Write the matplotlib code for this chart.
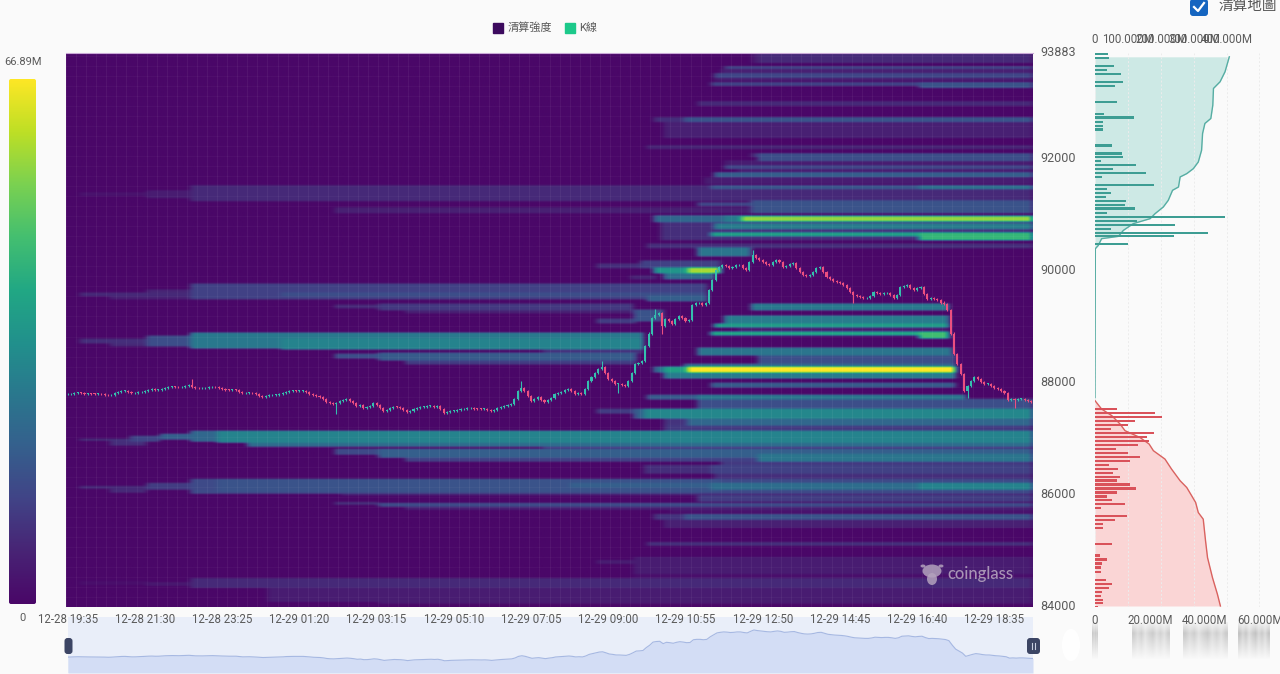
import numpy as np
import matplotlib
matplotlib.use("Agg")
import matplotlib.pyplot as plt
from matplotlib.colors import LinearSegmentedColormap
from matplotlib.patches import FancyBboxPatch, Ellipse, Rectangle
from matplotlib.transforms import ScaledTranslation

plt.rcParams['font.family'] = ['Roboto', 'Noto Sans CJK TC', 'DejaVu Sans']

W, H = 1280, 674
P_MIN, P_MAX = 84000, 93883
N = 288
V_MAX = 66.89

time_labels = ["12-28 19:35", "12-28 21:30", "12-28 23:25", "12-29 01:20", "12-29 03:15", "12-29 05:10", "12-29 07:05",
               "12-29 09:00", "12-29 10:55", "12-29 12:50", "12-29 14:45", "12-29 16:40", "12-29 18:35"]
price_ticks = [84000, 86000, 88000, 90000, 92000, 93883]

# liquidation bands: price low, price high, first candle, last candle, value in M
bands = [
    (93721, 93883, 206, 288, 8), (93721, 93883, 204, 206, 4), (93614, 93650, 196, 288, 13), (93525, 93596, 195, 288, 6),
    (93453, 93525, 193, 288, 14), (93400, 93453, 193, 288, 5), (93310, 93364, 192, 288, 13),
    (93275, 93364, 254, 288, 17), (92953, 93024, 188, 288, 8), (92667, 92738, 175, 184, 9),
    (92667, 92738, 184, 288, 17), (92381, 92667, 178, 288, 6), (92184, 92238, 173, 288, 7),
    (92042, 92095, 204, 206, 9), (91970, 92095, 206, 288, 16), (91881, 91970, 196, 288, 5),
    (91827, 91881, 196, 288, 14), (91756, 91827, 200, 288, 5), (91684, 91756, 193, 288, 20),
    (91559, 91666, 190, 288, 5), (91470, 91523, 192, 288, 18), (91470, 91523, 254, 288, 25),
    (91255, 91523, 37, 288, 8), (91345, 91398, 4, 37, 3), (91309, 91434, 24, 37, 5),
    (91166, 91219, 188, 288, 14), (91041, 91255, 204, 288, 17), (91041, 91130, 80, 204, 6),
    (90880, 90987, 175, 288, 22), (90880, 90987, 196, 288, 28), (90898, 90969, 201, 288, 56),
    (90558, 90880, 177, 288, 9), (90755, 90844, 193, 288, 28), (90630, 90683, 192, 288, 38),
    (90558, 90683, 254, 288, 44), (90415, 90487, 173, 288, 9), (90272, 90415, 188, 204, 26),
    (90058, 90129, 158, 195, 9), (90058, 90183, 171, 195, 13), (89969, 90058, 175, 195, 35),
    (89969, 90058, 185, 195, 58), (89861, 89969, 178, 193, 24), (89860, 89900, 168, 176, 7),
    (89504, 89772, 37, 191, 13), (89558, 89611, 4, 37, 8), (89504, 89558, 13, 37, 6),
    (89530, 89650, 24, 37, 7), (89558, 89611, 64, 191, 16), (89468, 89558, 173, 191, 20),
    (89290, 89415, 93, 169, 11), (89343, 89397, 80, 93, 8), (89254, 89290, 101, 169, 6),
    (89110, 89290, 169, 178, 17), (89075, 89130, 158, 170, 12), (89290, 89415, 204, 263, 27),
    (89075, 89200, 196, 263, 28), (89004, 89057, 193, 263, 37), (88932, 89004, 200, 263, 5),
    (88861, 88914, 192, 263, 40), (88796, 88914, 254, 263, 46), (88628, 88896, 37, 172, 27),
    (88718, 88789, 4, 24, 9), (88664, 88718, 13, 37, 8), (88664, 88835, 24, 37, 16),
    (88610, 88780, 64, 172, 30), (88539, 88646, 142, 172, 9), (88503, 88628, 188, 264, 26),
    (88450, 88521, 80, 93, 16), (88414, 88539, 93, 170, 19), (88342, 88414, 101, 170, 12),
    (88342, 88503, 206, 265, 16), (88289, 88342, 184, 265, 22), (88199, 88289, 175, 265, 24),
    (88199, 88289, 178, 265, 38), (88199, 88289, 185, 265, 66.89), (88092, 88199, 178, 265, 28),
    (87931, 88003, 192, 265, 19), (87717, 87788, 173, 188, 19), (87717, 87788, 188, 268, 26),
    (87538, 87717, 188, 288, 16), (87360, 87538, 172, 288, 31), (87360, 87538, 169, 172, 20),
    (87450, 87538, 158, 170, 12), (87235, 87360, 185, 288, 22), (87235, 87360, 178, 185, 10),
    (87145, 87235, 178, 288, 11), (86931, 87145, 45, 288, 30), (86960, 87145, 37, 45, 22),
    (86985, 87074, 28, 37, 20), (86967, 87002, 4, 19, 10), (86895, 86949, 13, 24, 9),
    (86950, 87055, 19, 28, 14), (86877, 86931, 54, 288, 24), (86823, 86877, 142, 288, 10),
    (86734, 86806, 80, 93, 15), (86663, 86823, 93, 288, 20), (86609, 86663, 101, 288, 13),
    (86609, 86720, 206, 288, 26), (86520, 86609, 195, 288, 11), (86377, 86520, 192, 288, 13),
    (86377, 86520, 172, 192, 9), (86252, 86377, 193, 288, 9), (86037, 86287, 37, 288, 15),
    (86109, 86162, 4, 24, 8), (86055, 86109, 13, 24, 8), (86091, 86216, 24, 37, 12),
    (86060, 86287, 45, 195, 17), (86127, 86216, 150, 288, 20), (86091, 86216, 192, 288, 24),
    (86091, 86216, 254, 288, 30), (85984, 86037, 82, 288, 5), (85894, 85984, 188, 288, 12),
    (85823, 85876, 80, 93, 9), (85805, 85858, 93, 288, 15), (85751, 85805, 101, 288, 6),
    (85680, 85751, 180, 288, 3), (85555, 85662, 184, 288, 17), (85555, 85662, 175, 184, 10),
    (85412, 85555, 178, 288, 6), (85108, 85144, 173, 288, 9), (84590, 84876, 169, 288, 5),
    (84780, 84830, 158, 169, 5), (84518, 84590, 169, 288, 2), (84340, 84518, 37, 288, 8),
    (84388, 84430, 24, 37, 4), (84410, 84460, 4, 24, 2), (84107, 84340, 60, 288, 5),
    (84107, 84197, 80, 93, 3), (84054, 84161, 93, 288, 4),
]

# 5 minute closes
closes = [
    87794, 87805, 87814, 87823, 87814, 87806, 87806, 87800, 87796, 87796,
    87794, 87788, 87776, 87788, 87812, 87833, 87851, 87855, 87833, 87812,
    87814, 87827, 87837, 87860, 87878, 87884, 87869, 87873, 87896, 87914,
    87928, 87932, 87926, 87919, 87932, 87941, 87955, 87932, 87905, 87901,
    87901, 87910, 87917, 87926, 87917, 87905, 87890, 87878, 87873, 87874,
    87873, 87842, 87812, 87817, 87824, 87810, 87794, 87771, 87753, 87762,
    87776, 87783, 87788, 87794, 87815, 87842, 87853, 87855, 87851, 87855,
    87855, 87833, 87806, 87776, 87762, 87753, 87717, 87663, 87637, 87628,
    87646, 87672, 87690, 87704, 87681, 87646, 87592, 87610, 87556, 87562,
    87592, 87633, 87610, 87556, 87490, 87520, 87556, 87574, 87565, 87551,
    87520, 87472, 87502, 87538, 87551, 87565, 87574, 87583, 87592, 87574,
    87592, 87538, 87454, 87476, 87494, 87502, 87520, 87526, 87535, 87544,
    87544, 87538, 87533, 87530, 87538, 87520, 87490, 87520, 87551, 87574,
    87592, 87610, 87628, 87717, 87860, 87914, 87860, 87770, 87681, 87717,
    87740, 87699, 87651, 87699, 87735, 87801, 87824, 87842, 87878, 87890,
    87860, 87806, 87824, 87806, 87896, 88039, 88110, 88182, 88253, 88276,
    88182, 88074, 88039, 87985, 87985, 87967, 87949, 88039, 88182, 88343,
    88360, 88396, 88664, 88879, 89164, 89218, 89236, 89021, 89146, 89110,
    89057, 89146, 89200, 89164, 89110, 89128, 89379, 89415, 89415, 89379,
    89415, 89647, 89826, 90004, 90058, 90094, 90076, 90040, 90058, 90094,
    90094, 90040, 90004, 90147, 90272, 90219, 90183, 90147, 90112, 90094,
    90147, 90183, 90147, 90058, 90076, 90112, 90129, 90040, 89969, 89915,
    89897, 89915, 89969, 90040, 90058, 89969, 89879, 89844, 89808, 89790,
    89772, 89736, 89683, 89611, 89558, 89540, 89522, 89504, 89504, 89540,
    89611, 89594, 89576, 89594, 89594, 89558, 89504, 89558, 89701, 89718,
    89736, 89683, 89647, 89683, 89701, 89576, 89486, 89504, 89486, 89468,
    89432, 89397, 89290, 88879, 88521, 88343, 88164, 87860, 87949, 88039,
    88110, 88074, 88021, 87985, 87985, 87949, 87914, 87896, 87860, 87824,
    87699, 87717, 87699, 87717, 87717, 87699, 87681, 87663,
]
high_spikes = {37: 88074, 135: 88039, 159: 88396, 175: 89325, 204: 90362}
low_spikes = {80: 87437, 164: 87824, 177: 88879, 234: 89415, 268: 87735, 282: 87556}

# right panel, short side (above price)
short_prices = [93864, 93793, 93650, 93578, 93507, 93364, 93292, 93012, 92798, 92733, 92655, 92583, 92519, 92233,
                92090, 92024, 91952, 91881, 91809, 91738, 91666, 91529, 91457, 91386, 91314, 91243, 91171, 91107,
                91035, 90957, 90892, 90821, 90749, 90678, 90612, 90469]
short_values = [4.8, 5.1, 6.9, 4.5, 9.3, 10.3, 7.2, 8.1, 3.3, 14.3, 3.0, 2.8, 2.8, 6.1, 9.7, 10.2, 2.1, 14.8, 6.4,
                18.7, 2.4, 21.3, 4.2, 5.7, 3.9, 11.2, 10.9, 14.5, 4.4, 47.3, 15.2, 29.0, 5.8, 41.0, 28.6, 12.1]
short_cum_prices = [87735, 90392, 90451, 90571, 90612, 90719, 90839, 90928, 91017, 91136, 91255, 91434, 91493, 91672,
                    91731, 91820, 91939, 92149, 92447, 92626, 92715, 92953, 93251, 93370, 93548, 93815]
short_cum = [0, 1, 10, 20, 71, 86, 116, 167, 182, 207, 222, 235, 253, 258, 278, 298, 313, 323, 326, 333, 351, 357,
             359, 379, 394, 407]

# right panel, long side (below price)
long_prices = [87532, 87461, 87389, 87318, 87246, 87175, 87103, 87032, 86960, 86889, 86817, 86752, 86680, 86609,
               86538, 86466, 86395, 86323, 86258, 86186, 86115, 86043, 85972, 85906, 85835, 85763, 85620, 85549,
               85477, 85412, 85126, 84917, 84846, 84774, 84703, 84631, 84488, 84417, 84345, 84274, 84202, 84131,
               84066, 84000]
long_values = [8.1, 21.8, 24.2, 14.5, 12.1, 5.7, 21.5, 18.8, 19.6, 15.8, 7.5, 11.9, 16.2, 12.7, 5.2, 8.5, 6.7, 9.2,
               7.9, 12.8, 14.9, 8.1, 4.4, 6.1, 10.8, 2.2, 11.6, 7.4, 2.9, 2.8, 6.1, 1.9, 4.2, 2.7, 2.1, 2.2, 4.0,
               6.1, 5.0, 2.4, 2.1, 2.8, 2.9, 1.1]
long_cum_prices = [87681, 87532, 87413, 87264, 87145, 87025, 86907, 86788, 86639, 86460, 86252, 86132, 85984, 85864,
                   85685, 85567, 85179, 84881, 84524, 84227, 84018]
long_cum = [0, 20, 51, 76, 91, 136, 164, 177, 212, 232, 258, 278, 293, 305, 313, 328, 335, 341, 356, 371, 380]

bar_ticks = [0, 20, 40, 60]
cum_ticks = [0, 100, 200, 300, 400]


def axes_px(x0, y0, x1, y1, **kw):
    return fig.add_axes([x0 / W, 1 - y1 / H, (x1 - x0) / W, (y1 - y0) / H], **kw)


cmap = LinearSegmentedColormap.from_list(
    "liq", ["#4a0768", "#482475", "#414487", "#35608d", "#2a788e", "#21918c", "#22a884", "#44bf70", "#7ad151",
            "#bddf26", "#fde725"])

fig = plt.figure(figsize=(W / 100, H / 100), dpi=100, facecolor="#fafafa")

# slider strip at the bottom
ax_zoom = axes_px(68, 617, 1033, 673, zorder=1, facecolor="#e9eef9")
ax_zoom.fill_between(np.arange(N), 86336, closes, color="#d3ddf5", lw=0)
ax_zoom.plot(np.arange(N), closes, color="#a6b8e2", lw=0.8)
ax_zoom.set_xlim(0, N - 1)
ax_zoom.set_ylim(86336, 91460)
ax_zoom.axis("off")
ax_zoom.add_patch(Rectangle((0, 0), 1, 1, transform=ax_zoom.transAxes, color="#e9eef9", zorder=-1))

# main heatmap
ax = axes_px(66, 53, 1033, 607, zorder=2)
n_rows = 553
row_h = (P_MAX - P_MIN) / n_rows
z = np.zeros((n_rows, N))
for low, high, start, end, value in bands:
    r0 = int((low - P_MIN) / row_h)
    r1 = int(np.ceil((high - P_MIN) / row_h))
    z[r0:r1, start:end] = np.maximum(z[r0:r1, start:end], value)
# the source picture is a little soft
soft = np.array([0.25, 0.5, 0.25])
z = np.apply_along_axis(lambda c: np.convolve(c, soft, mode="same"), 0, z)
z = np.apply_along_axis(lambda r: np.convolve(r, soft, mode="same"), 1, z)
ax.imshow(z, origin="lower", aspect="auto", cmap=cmap, vmin=0, vmax=V_MAX, interpolation="bilinear",
          extent=(-0.5, N - 0.5, P_MIN, P_MAX), zorder=0)

ax.set_xticks(np.arange(-0.5, N, 3), minor=True)
ax.set_yticks(np.arange(P_MIN, P_MAX, row_h * 10), minor=True)
ax.grid(which="minor", axis="x", color="white", alpha=0.05, lw=0.7)
ax.grid(which="minor", axis="y", color="white", alpha=0.03, lw=0.7)
ax.tick_params(which="minor", length=0)

# candles
closes = np.array(closes, dtype=float)
opens = np.r_[closes[0], closes[:-1]]
highs = np.maximum(opens, closes) + 18
lows = np.minimum(opens, closes) - 18
for i, p in high_spikes.items():
    highs[i] = p
for i, p in low_spikes.items():
    lows[i] = p
colors = np.where(closes >= opens, "#35bfae", "#ec4f80")
idx = np.arange(N)
ax.vlines(idx, lows, highs, colors=colors, lw=0.8, zorder=3)
ax.bar(idx, np.maximum(np.abs(closes - opens), 14), bottom=np.minimum(opens, closes), width=0.62, color=colors,
       lw=0, zorder=4)

ax.set_xlim(-0.5, N - 0.5)
ax.set_ylim(P_MIN, P_MAX)
ax.set_xticks(np.arange(0, N, 23))
ax.set_xticklabels(time_labels, fontsize=8.3, color="#5a5a5a")
ax.yaxis.tick_right()
ax.set_yticks(price_ticks)
ax.set_yticklabels([str(p) for p in price_ticks], fontsize=9, color="#5a5a5a")
ax.tick_params(which="major", length=0)
ax.tick_params(axis="x", pad=4.5)
ax.tick_params(axis="y", pad=5)
up = ScaledTranslation(0, 1.7 / 100, fig.dpi_scale_trans)
for lab in ax.get_yticklabels():
    lab.set_transform(lab.get_transform() + up)
for s in ax.spines.values():
    s.set_visible(False)
ax.spines["top"].set_visible(True)
ax.spines["top"].set_color("#c9a8d6")
ax.spines["top"].set_linewidth(0.8)

# right panel
side = axes_px(1095, 53, 1260, 607, zorder=2, facecolor="none")
side.set_xlim(0, 60)
side.set_ylim(P_MIN, P_MAX)
side.set_xticks(bar_ticks)
side.set_xticklabels(["0", "20.000M", "40.000M", "60.000M"], fontsize=8.3, color="#5a5a5a")
side.set_yticks([])
side.tick_params(length=0, pad=5)
for s in side.spines.values():
    s.set_visible(False)

top = side.twiny()
top.set_xlim(0, 500)
top.set_xticks(cum_ticks)
top.set_xticklabels(["0", "100.000M", "200.000M", "300.000M", "400.000M"], fontsize=8.3, color="#5a5a5a")
top.tick_params(length=0, pad=5)
top.grid(axis="x", color="#ececec", ls=(0, (2, 2)), lw=0.7)
top.axvline(497, color="#ececec", ls=(0, (2, 2)), lw=0.7)
for s in top.spines.values():
    s.set_visible(False)
top.fill_betweenx(short_cum_prices, 0, short_cum, color="#cde9e5", lw=0)
top.plot(short_cum, short_cum_prices, color="#56ada3", lw=1)
top.fill_betweenx(long_cum_prices, 0, long_cum, color="#fad5d5", lw=0)
top.plot(long_cum, long_cum_prices, color="#d9625f", lw=1)
top.set_zorder(1)
side.set_zorder(3)
side.patch.set_visible(False)
side.barh(short_prices, short_values, height=40, color="#3d9d93", lw=0)
side.barh(long_prices, long_values, height=40, color="#d9525a", lw=0)

# everything placed in picture pixels
ov = axes_px(0, 0, W, H, zorder=5, facecolor="none")

# colour scale
grad = np.linspace(1, 0, 256).reshape(-1, 1)
im = ov.imshow(grad, extent=(9, 36, 604, 79), aspect="auto", cmap=cmap, vmin=0, vmax=1)
clip = FancyBboxPatch((9, 79), 27, 525, boxstyle="round,pad=0,rounding_size=2", transform=ov.transData, fc="none",
                      ec="none")
ov.add_patch(clip)
im.set_clip_path(clip)
ov.text(23, 62, "66.89M", ha="center", va="center", fontsize=8, color="#5a5a5a")
ov.text(22, 618, "0", ha="center", va="center", fontsize=8, color="#5a5a5a")

# legend
ov.add_patch(Rectangle((493, 23), 10, 10, color="#3c0a5e"))
ov.text(530, 27.5, "清算強度", ha="center", va="center", fontsize=8, color="#5a5a5a")
ov.add_patch(Rectangle((565, 23), 10, 10, color="#1cc98a"))
ov.text(588, 27.5, "K線", ha="center", va="center", fontsize=8, color="#5a5a5a")

# checkbox
ov.add_patch(FancyBboxPatch((1190, -1), 18, 17, boxstyle="round,pad=0,rounding_size=3", fc="#1565c0", ec="none"))
ov.plot([1194, 1198, 1204], [7, 11, 3], color="white", lw=1.6)
ov.text(1248, 6, "清算地圖", ha="center", va="center", fontsize=10.5, color="#555555")

# slider handles
ov.add_patch(FancyBboxPatch((64.5, 638), 8, 16, boxstyle="round,pad=0,rounding_size=3", fc="#3c4564", ec="none"))
ov.add_patch(FancyBboxPatch((1027, 638), 13, 16, boxstyle="round,pad=0,rounding_size=3", fc="#3c4564", ec="none"))
ov.plot([1032, 1032], [643, 649], color="#c8cfe0", lw=0.8)
ov.plot([1035, 1035], [643, 649], color="#c8cfe0", lw=0.8)

# blurred smear under the right panel labels
fade = np.r_[np.linspace(0.1, 0.5, 12), np.linspace(0.5, 0.0, 28)].reshape(-1, 1)
streaks = [1, 0.65, 0.9, 0.5, 0.8, 1, 0.6, 0.85, 0.55, 0.95]
for x0, x1, c in [(1092, 1098, 0.55), (1132, 1170, 0.62), (1183, 1228, 0.6), (1238, 1270, 0.55)]:
    alpha = fade @ np.array(streaks)[None, :]
    rgba = np.dstack([np.full_like(alpha, c)] * 3 + [alpha])
    ov.imshow(rgba, extent=(x0, x1, 660, 622), aspect="auto", zorder=1, interpolation="bilinear")
ov.add_patch(Ellipse((1071, 645), 18, 32, color="white", alpha=0.9, lw=0))

# watermark
wm = "#b3a2bd"
ov.add_patch(Ellipse((932, 571), 19, 13, color=wm, alpha=0.85, lw=0))
ov.add_patch(Ellipse((932, 579), 10, 12, color=wm, alpha=0.85, lw=0))
ov.add_patch(Ellipse((923, 566), 5, 3, color=wm, alpha=0.85, lw=0))
ov.add_patch(Ellipse((941, 566), 5, 3, color=wm, alpha=0.85, lw=0))
ov.text(947, 574, "coinglass", ha="left", va="center", fontsize=12, color=wm, alpha=0.9, fontweight="medium",
        family="Lato")

ov.set_xlim(0, W)
ov.set_ylim(H, 0)
ov.axis("off")

fig.savefig("out.png", dpi=100, facecolor=fig.get_facecolor())
